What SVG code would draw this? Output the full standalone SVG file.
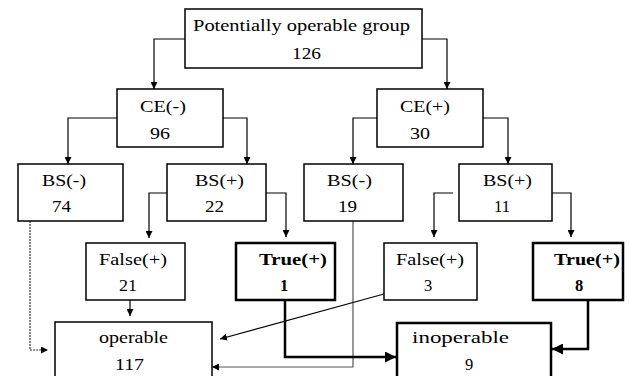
<svg xmlns="http://www.w3.org/2000/svg" width="630" height="376" viewBox="0 0 630 376">
<defs>
<marker id="ah" viewBox="0 0 10 10" refX="10" refY="5" markerWidth="7" markerHeight="7" markerUnits="userSpaceOnUse" orient="auto"><path d="M0,0 L10,5 L0,10 z" fill="#000"/></marker>
<marker id="ahb" viewBox="0 0 10 10" refX="10" refY="5" markerWidth="11" markerHeight="11" markerUnits="userSpaceOnUse" orient="auto"><path d="M0,0 L10,5 L0,10 z" fill="#000"/></marker>
<style>
.box{fill:#fff;stroke:#000;stroke-width:1.5}
.bold{fill:#fff;stroke:#000;stroke-width:2.5}
text{font-family:"Liberation Serif","Times New Roman",serif;font-size:16.5px;fill:#000}
.b{font-weight:bold}
.c{fill:none;stroke:#000;stroke-width:1.2;marker-end:url(#ah)}
.g{fill:none;stroke:#555;stroke-width:1.2;marker-end:url(#ah)}
.d{fill:none;stroke:#333;stroke-width:1.2;stroke-dasharray:2 1;marker-end:url(#ah)}
.t{fill:none;stroke:#000;stroke-width:2.5;marker-end:url(#ahb)}
</style>
</defs>
<rect width="630" height="376" fill="#fff"/>
<g id="connectors">
<path class="c" d="M185,39 H154 V89"/>
<path class="c" d="M422,39 H447 V89"/>
<path class="c" d="M117,118 H68 V164"/>
<path class="c" d="M223,118 H247 V164"/>
<path class="c" d="M377,118 H353 V164"/>
<path class="c" d="M483,118 H508 V164"/>
<path class="c" d="M167,193 H149 V238"/>
<path class="c" d="M266,193 H286 V237"/>
<path class="c" d="M453,193 H434 V237"/>
<path class="c" d="M552,193 H571 V237"/>
<path class="c" d="M130,300 V316"/>
<path class="d" d="M30,221 V350 H48"/>
<path class="g" d="M353,221 V367 H212"/>
<path class="c" d="M384,294 L220,339"/>
<path class="t" d="M285,300 V357 H396"/>
<path class="t" d="M588,300 V349 H552"/>
</g>
<g id="root"><rect class="box" x="185" y="9" width="237" height="59"/>
<text x="193" y="31" textLength="217" lengthAdjust="spacingAndGlyphs">Potentially operable group</text>
<text x="292" y="59" textLength="29" lengthAdjust="spacingAndGlyphs">126</text></g>
<g id="ce-neg"><rect class="box" x="117" y="89" width="106" height="58"/>
<text x="140" y="112" textLength="46" lengthAdjust="spacingAndGlyphs">CE(-)</text>
<text x="150" y="139" textLength="20" lengthAdjust="spacingAndGlyphs">96</text></g>
<g id="ce-pos"><rect class="box" x="377" y="89" width="106" height="58"/>
<text x="400" y="112" textLength="50" lengthAdjust="spacingAndGlyphs">CE(+)</text>
<text x="410" y="139" textLength="20" lengthAdjust="spacingAndGlyphs">30</text></g>
<g id="bs-neg-1"><rect class="box" x="18" y="164" width="105" height="57"/>
<text x="42" y="186" textLength="44" lengthAdjust="spacingAndGlyphs">BS(-)</text>
<text x="52" y="212" textLength="19" lengthAdjust="spacingAndGlyphs">74</text></g>
<g id="bs-pos-1"><rect class="box" x="167" y="164" width="99" height="57"/>
<text x="195" y="186" textLength="49" lengthAdjust="spacingAndGlyphs">BS(+)</text>
<text x="205" y="212" textLength="19" lengthAdjust="spacingAndGlyphs">22</text></g>
<g id="bs-neg-2"><rect class="box" x="304" y="164" width="99" height="57"/>
<text x="327" y="186" textLength="45" lengthAdjust="spacingAndGlyphs">BS(-)</text>
<text x="338" y="212" textLength="19" lengthAdjust="spacingAndGlyphs">19</text></g>
<g id="bs-pos-2"><rect class="box" x="459" y="164" width="93" height="57"/>
<text x="483" y="186" textLength="49" lengthAdjust="spacingAndGlyphs">BS(+)</text>
<text x="494" y="212" textLength="16" lengthAdjust="spacingAndGlyphs">11</text></g>
<g id="false-1"><rect class="box" x="86" y="243" width="99" height="57"/>
<text x="99" y="265" textLength="68" lengthAdjust="spacingAndGlyphs">False(+)</text>
<text x="119" y="291" textLength="18" lengthAdjust="spacingAndGlyphs">21</text></g>
<g id="true-1"><rect class="bold" x="236" y="243" width="99" height="57"/>
<text class="b" x="259" y="265" textLength="68" lengthAdjust="spacingAndGlyphs">True(+)</text>
<text class="b" x="280" y="291">1</text></g>
<g id="false-2"><rect class="box" x="384" y="243" width="93" height="57"/>
<text x="396" y="265" textLength="68" lengthAdjust="spacingAndGlyphs">False(+)</text>
<text x="424" y="291">3</text></g>
<g id="true-2"><rect class="bold" x="533" y="243" width="90" height="57"/>
<text class="b" x="554" y="265" textLength="66" lengthAdjust="spacingAndGlyphs">True(+)</text>
<text class="b" x="575" y="291">8</text></g>
<g id="operable"><rect class="box" x="55" y="322" width="157" height="60"/>
<text x="99" y="343" textLength="69" lengthAdjust="spacingAndGlyphs">operable</text>
<text x="115" y="370" textLength="29" lengthAdjust="spacingAndGlyphs">117</text></g>
<g id="inoperable"><rect class="bold" x="397" y="323" width="154" height="60"/>
<text x="412" y="343" textLength="97" lengthAdjust="spacingAndGlyphs">inoperable</text>
<text x="465" y="370">9</text></g>
</svg>
